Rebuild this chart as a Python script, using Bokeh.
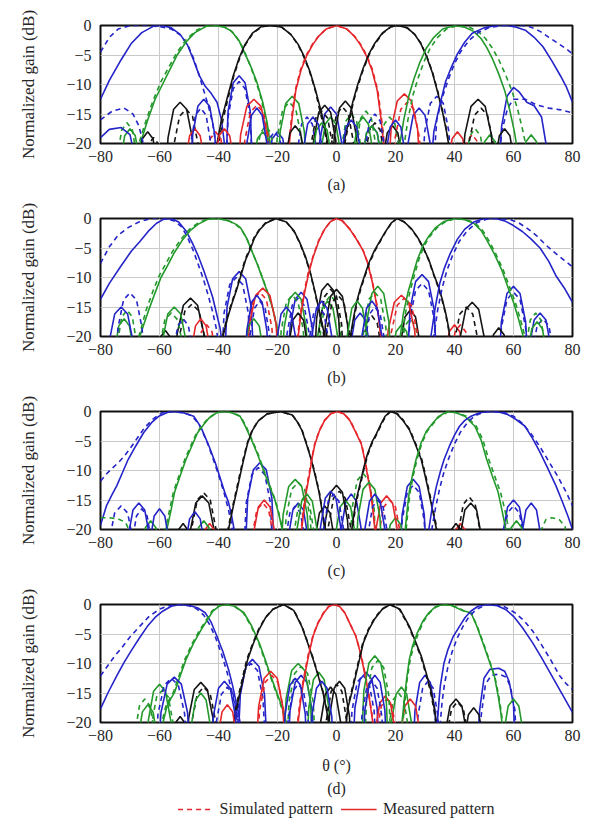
from bokeh.plotting import figure
from bokeh.layouts import column
from bokeh.models import (Range1d, FixedTicker, ColumnDataSource, Legend, LegendItem, Title)
from bokeh.embed import file_html
from bokeh.resources import INLINE

# ---------------- data (theta in degrees, normalized gain in dB) ----------------
X_TICKS = [-80, -60, -40, -20, 0, 20, 40, 60, 80]
X_TICK_LABELS = ["\u221280", "\u221260", "\u221240", "\u221220", "0", "20", "40", "60", "80"]
Y_TICKS = [-20, -15, -10, -5, 0]
Y_TICK_LABELS = ["\u221220", "\u221215", "\u221210", "\u22125", "0"]
PANEL_LABELS = ["(a)", "(b)", "(c)", "(d)"]
X_TITLE = "\u03b8 (\u00b0)"
Y_TITLE = "Normalized gain (dB)"
LEGEND_LABELS = ["Simulated pattern", "Measured pattern"]

# ---- panel (a) ----
A_BL_M = [(-80,-12.5),(-77,-9.3),(-73,-5.8),(-69.5,-3),(-66,-1.2),(-62,-0.1),(-59,0),(-56,-0.4),(-53,-1.5),(-50.5,-3.3),(-48.5,-5.8),(-46.5,-8.5),(-44.5,-10.3),(-42.5,-11.5),(-40.5,-13),(-39,-16),(-38,-20),(-37.5,-30),
          (-38,-30),(-36.75,-14.5),(-35,-9.7),(-33,-8.5),(-31,-9.7),(-29.25,-14.5),(-28,-30),
          (-24.5,-30),(-23.4,-24),(-21.8,-19.2),(-20,-18),(-18.2,-19.2),(-16.6,-24),(-15.5,-30),
          (-7,-30),(-5.75,-19.8),(-4,-15),(-2,-13.8),(0,-15),(1.75,-19.8),(3,-30),
          (7.5,-30),(8.6,-23),(10.2,-18.2),(12,-17),(13.8,-18.2),(15.4,-23),(16.5,-30),
          (23,-30),(24.25,-20),(26,-15.2),(28,-14),(30,-15.2),(31.75,-20),(33,-30),
          (54,-30),(56,-17),(57.8,-12),(60,-10.5),(62,-11.3),(64.5,-13),(67,-13.6),(69.5,-15.5),(71,-20),(71.5,-30)]
A_BL_S = [(-80,-4.5),(-77,-2),(-74,-0.6),(-70,0),(-64,0),(-60,-0.2),(-56,-0.6),(-53,-1.6),(-50.5,-3.2),(-48.5,-5.5),(-46.5,-8.5),(-45,-11),(-43.5,-13.5),(-42,-16.5),(-41,-20),(-40.5,-30),
          (-38,-30),(-36.75,-15.5),(-35,-10.7),(-33,-9.5),(-31,-10.7),(-29.25,-15.5),(-28,-30),
          (-14.5,-30),(-13.4,-21.5),(-11.8,-16.7),(-10,-15.5),(-8.2,-16.7),(-6.6,-21.5),(-5.5,-30),
          (28.5,-30),(29.9,-18),(31.8,-13.2),(34,-12),(36.2,-13.2),(38.1,-18),(39.5,-30),
          (54,-30),(56,-18),(58,-14),(60,-12.5),(64,-12.5),(68,-13.5),(72,-14),(76,-14.3),(80,-14.8)]
A_BR_M = [(-80,-19),(-77,-17.6),(-73,-17.3),(-70,-18.5),(-68.5,-22),(-68,-30),
          (-50,-30),(-48.75,-18.5),(-47,-13.7),(-45,-12.5),(-43,-13.7),(-41.25,-18.5),(-40,-30),
          (-31.5,-30),(-30.4,-20),(-28.8,-15.2),(-27,-14),(-25.2,-15.2),(-23.6,-20),(-22.5,-30),
          (-12.5,-30),(-11.4,-21.5),(-9.8,-16.7),(-8,-15.5),(-6.2,-16.7),(-4.6,-21.5),(-3.5,-30),
          (0.5,-30),(1.6,-22),(3.2,-17.2),(5,-16),(6.8,-17.2),(8.4,-22),(9.5,-30),
          (15.5,-30),(16.6,-22),(18.2,-17.2),(20,-16),(21.8,-17.2),(23.4,-22),(24.5,-30),
          (31,-30),(33,-18),(35,-13.5),(37,-9.5),(39,-7),(41,-4.8),(43.5,-2.8),(46,-1.3),(50,-0.4),(54,0),(58,0),(61,-0.3),(64,-0.8),(67,-2),(70,-3.6),(73,-6),(76,-8.6),(78,-10.5),(80,-13)]
A_BR_S = [(-80,-16),(-76,-14.5),(-72,-14),(-69,-15),(-67,-17),(-65.5,-20),(-65,-30),
          (-50.5,-30),(-49.4,-20),(-47.8,-15.2),(-46,-14),(-44.2,-15.2),(-42.6,-20),(-41.5,-30),
          (-25.5,-30),(-24.4,-24),(-22.8,-19.2),(-21,-18),(-19.2,-19.2),(-17.6,-24),(-16.5,-30),
          (8.5,-30),(9.6,-21),(11.2,-16.2),(13,-15),(14.8,-16.2),(16.4,-21),(17.5,-30),
          (32,-30),(34,-16),(36,-12),(38,-9),(40,-6.5),(42,-4.5),(45,-2.5),(48,-1.2),(52,-0.3),(57,0),(63,0),(66,-0.3),(69,-1),(72,-2),(75,-3),(78,-4),(80,-4.8)]
A_GL_M = [(-74.5,-30),(-73.4,-23.5),(-71.8,-18.7),(-70,-17.5),(-68.2,-18.7),(-66.6,-23.5),(-65.5,-30),
          (-66.5,-20),(-64,-16),(-61.5,-12.5),(-59,-10),(-57,-8),(-54,-5),(-51,-2.8),(-48,-1.2),(-44,-0.1),(-41,0),(-38,-0.3),(-35.5,-1),(-33,-2.6),(-31,-4.8),(-29,-7),(-27,-9.6),(-25,-13),(-23.5,-16.5),(-22.5,-20),(-22,-30),
          (-20.5,-30),(-19.1,-18),(-17.2,-13.2),(-15,-12),(-12.8,-13.2),(-10.9,-18),(-9.5,-30),
          (-6.5,-30),(-5.4,-21.5),(-3.8,-16.7),(-2,-15.5),(-0.2,-16.7),(1.4,-21.5),(2.5,-30),
          (7.5,-30),(8.6,-23),(10.2,-18.2),(12,-17),(13.8,-18.2),(15.4,-23),(16.5,-30),
          (47.5,-30),(48.6,-24.5),(50.2,-19.7),(52,-18.5),(53.8,-19.7),(55.4,-24.5),(56.5,-30)]
A_GL_S = [(-75.5,-30),(-74.4,-22.5),(-72.8,-17.7),(-71,-16.5),(-69.2,-17.7),(-67.6,-22.5),(-66.5,-30),
          (-67,-20),(-64.5,-16),(-62,-12.5),(-59.5,-9.5),(-57,-7.2),(-54,-4.5),(-51,-2.4),(-47.5,-0.8),(-44,0),(-40,0),(-37,-0.4),(-34.5,-1.5),(-32,-3.5),(-30,-5.8),(-28,-8.5),(-26,-11.5),(-24.3,-15),(-23,-18.5),(-22.3,-21),(-22,-30),
          (-21.5,-30),(-20.1,-19),(-18.2,-14.2),(-16,-13),(-13.8,-14.2),(-11.9,-19),(-10.5,-30),
          (0.5,-30),(1.6,-21),(3.2,-16.2),(5,-15),(6.8,-16.2),(8.4,-21),(9.5,-30),
          (13.5,-30),(14.6,-21.5),(16.2,-16.7),(18,-15.5),(19.8,-16.7),(21.4,-21.5),(22.5,-30),
          (42.5,-30),(43.6,-23.5),(45.2,-18.7),(47,-17.5),(48.8,-18.7),(50.4,-23.5),(51.5,-30)]
A_KL_M = [(-68.5,-30),(-67.4,-24),(-65.8,-19.2),(-64,-18),(-62.2,-19.2),(-60.6,-24),(-59.5,-30),
          (-58.5,-30),(-57.1,-19),(-55.2,-14.2),(-53,-13),(-50.8,-14.2),(-48.9,-19),(-47.5,-30),
          (-41.5,-30),(-40.5,-20),(-39,-16),(-37,-12.2),(-35,-8.5),(-33,-5.5),(-31,-3.2),(-28.5,-1.3),(-25.5,-0.2),(-22,0),(-18.5,-0.3),(-15.5,-1.5),(-13,-3.2),(-11,-5.2),(-9,-7.8),(-7.2,-10.8),(-5.5,-14),(-4,-17),(-3,-20),(-2.5,-30),
          (-2,-30),(-0.75,-18.8),(1,-14),(3,-12.8),(5,-14),(6.75,-18.8),(8,-30),
          (14.5,-30),(15.6,-23),(17.2,-18.2),(19,-17),(20.8,-18.2),(22.4,-23),(23.5,-30)]
A_KL_S = [(-66.5,-30),(-65.4,-25),(-63.8,-20.2),(-62,-19),(-60.2,-20.2),(-58.6,-25),(-57.5,-30),
          (-56.5,-30),(-55.1,-20.2),(-53.2,-15.4),(-51,-14.2),(-48.8,-15.4),(-46.9,-20.2),(-45.5,-30),
          (-41,-30),(-40,-20),(-38.5,-16),(-36.7,-12.2),(-34.8,-8.5),(-32.8,-5.5),(-30.8,-3.2),(-28.3,-1.3),(-25.3,-0.2),(-22,0),(-18.5,-0.3),(-15.5,-1.5),(-13,-3.3),(-11,-5.4),(-9,-8),(-7.2,-11),(-5.6,-14.5),(-4.2,-17.5),(-3.2,-20),(-2.8,-30),
          (-3,-30),(-1.75,-19.8),(0,-15),(2,-13.8),(4,-15),(5.75,-19.8),(7,-30),
          (8.5,-30),(9.6,-22.5),(11.2,-17.7),(13,-16.5),(14.8,-17.7),(16.4,-22.5),(17.5,-30)]
A_R_M = [(-52.5,-30),(-51.4,-23.5),(-49.8,-18.7),(-48,-17.5),(-46.2,-18.7),(-44.6,-23.5),(-43.5,-30),
         (-42.5,-30),(-41.4,-23.5),(-39.8,-18.7),(-38,-17.5),(-36.2,-18.7),(-34.6,-23.5),(-33.5,-30),
         (-34,-30),(-32.5,-18.5),(-30.4,-13.7),(-28,-12.5),(-25.6,-13.7),(-23.5,-18.5),(-22,-30),
         (-16.8,-30),(-16,-20),(-15,-15.5),(-13.8,-11),(-12,-7.5),(-10,-5),(-8,-3.2),(-6,-1.8),(-3.5,-0.6),(0,0),(3.5,-0.6),(6,-1.8),(8,-3.2),(10,-5),(12,-7.5),(13.8,-11),(15,-15.5),(16,-20),(16.8,-30),
         (17,-30),(18.5,-17.6),(20.6,-12.8),(23,-11.6),(25.4,-12.8),(27.5,-17.6),(29,-30),
         (36.5,-30),(37.6,-24),(39.2,-19.2),(41,-18),(42.8,-19.2),(44.4,-24),(45.5,-30)]
A_R_S = [(-45.5,-30),(-44.4,-24),(-42.8,-19.2),(-41,-18),(-39.2,-19.2),(-37.6,-24),(-36.5,-30),
         (-32.5,-30),(-31.1,-19.5),(-29.2,-14.7),(-27,-13.5),(-24.8,-14.7),(-22.9,-19.5),(-21.5,-30),
         (-17,-30),(-16.2,-20),(-15.2,-15.5),(-14,-11),(-12.2,-7.5),(-10.2,-5),(-8.2,-3.2),(-6.1,-1.8),(-3.5,-0.6),(0,0),(3.5,-0.6),(6.1,-1.8),(8.2,-3.2),(10.2,-5),(12.2,-7.5),(14,-11),(15.2,-15.5),(16.2,-20),(17,-30),
         (18.5,-30),(19.9,-19),(21.8,-14.2),(24,-13),(26.2,-14.2),(28.1,-19),(29.5,-30),
         (41.5,-30),(42.6,-24.5),(44.2,-19.7),(46,-18.5),(47.8,-19.7),(49.4,-24.5),(50.5,-30)]
A_KR_M = [(-18.5,-30),(-17.4,-23),(-15.8,-18.2),(-14,-17),(-12.2,-18.2),(-10.6,-23),(-9.5,-30),
          (-9,-30),(-7.75,-19.5),(-6,-14.7),(-4,-13.5),(-2,-14.7),(-0.25,-19.5),(1,-30),
          (1.5,-30),(2.5,-20),(4,-16.5),(5.5,-13),(7.2,-10),(9,-7.3),(11,-4.8),(13,-3),(15.5,-1.3),(18.5,-0.2),(21,0),(24,-0.4),(26.5,-1.5),(28.5,-3),(30.5,-5.2),(32.5,-8),(34.3,-11.3),(36,-14.8),(37.3,-18),(38.3,-21),(38.8,-30),
          (42,-30),(43.5,-18.5),(45.6,-13.7),(48,-12.5),(50.4,-13.7),(52.5,-18.5),(54,-30),
          (52.5,-30),(53.6,-23.5),(55.2,-18.7),(57,-17.5),(58.8,-18.7),(60.4,-23.5),(61.5,-30)]
A_KR_S = [(-10,-30),(-8.75,-20.5),(-7,-15.7),(-5,-14.5),(-3,-15.7),(-1.25,-20.5),(0,-30),
          (1.8,-30),(2.8,-20),(4.2,-16.5),(5.7,-13),(7.4,-10),(9.2,-7.3),(11.2,-4.8),(13.2,-3),(15.7,-1.3),(18.5,-0.2),(21,0),(24,-0.4),(26.5,-1.5),(28.6,-3),(30.6,-5.2),(32.6,-8),(34.4,-11.3),(36.1,-14.8),(37.4,-18),(38.4,-21),(38.9,-30),
          (43.5,-30),(44.9,-20),(46.8,-15.2),(49,-14),(51.2,-15.2),(53.1,-20),(54.5,-30)]
A_GR_M = [(-29.5,-30),(-28.4,-24),(-26.8,-19.2),(-25,-18),(-23.2,-19.2),(-21.6,-24),(-20.5,-30),
          (-9.5,-30),(-8.4,-22.5),(-6.8,-17.7),(-5,-16.5),(-3.2,-17.7),(-1.6,-22.5),(-0.5,-30),
          (4.5,-30),(5.6,-21.5),(7.2,-16.7),(9,-15.5),(10.8,-16.7),(12.4,-21.5),(13.5,-30),
          (20.5,-30),(21.5,-20),(22.8,-16),(24.5,-12),(26.3,-9),(28.3,-6.2),(30.5,-3.8),(33,-2),(36,-0.6),(40,0),(43.5,-0.3),(46.5,-1),(49,-2.2),(51,-3.8),(53,-5.8),(55,-8.2),(57,-11),(58.8,-14.5),(60.3,-18),(61.3,-21),(61.8,-30),
          (61.5,-30),(62.6,-24.5),(64.2,-19.7),(66,-18.5),(67.8,-19.7),(69.4,-24.5),(70.5,-30)]
A_GR_S = [(-28.5,-30),(-27.4,-23),(-25.8,-18.2),(-24,-17),(-22.2,-18.2),(-20.6,-23),(-19.5,-30),
          (5.5,-30),(6.6,-20.5),(8.2,-15.7),(10,-14.5),(11.8,-15.7),(13.4,-20.5),(14.5,-30),
          (22,-30),(23,-20),(24.2,-16),(25.8,-12),(27.6,-9),(29.6,-6.2),(31.8,-3.8),(34.3,-2),(37.3,-0.6),(41,0),(45,-0.3),(48,-1),(50.5,-2.2),(52.8,-3.8),(55,-5.8),(57.2,-8.2),(59.4,-11),(61.3,-14),(63,-17.5),(64.5,-21),(65,-30)]

# ---- panel (b) ----
B_BL_M = [(-80,-13.7),(-77,-11),(-73,-8),(-69.5,-5.5),(-66.5,-3.8),(-63.5,-2),(-61,-0.8),(-58.5,-0.1),(-56,0),(-53.5,-0.6),(-51,-2.1),(-49,-4),(-47,-6.2),(-45,-8.8),(-43.5,-11),(-42,-13.3),(-40.8,-15.8),(-39.5,-18.5),(-38.8,-21),(-38.5,-30),
          (-38.5,-30),(-37.1,-15),(-35.2,-10.2),(-33,-9),(-30.8,-10.2),(-28.9,-15),(-27.5,-30),
          (-17,-30),(-15.75,-18.5),(-14,-13.7),(-12,-12.5),(-10,-13.7),(-8.25,-18.5),(-7,-30),
          (3.5,-30),(4.6,-22),(6.2,-17.2),(8,-16),(9.8,-17.2),(11.4,-22),(12.5,-30),
          (23.5,-30),(24.9,-15.5),(26.8,-10.7),(29,-9.5),(31.2,-10.7),(33.1,-15.5),(34.5,-30),
          (54.5,-30),(55.9,-17.5),(57.8,-12.7),(60,-11.5),(62.2,-12.7),(64.1,-17.5),(65.5,-30),
          (64,-30),(65.25,-22),(67,-17.2),(69,-16),(71,-17.2),(72.75,-22),(74,-30)]
B_BL_S = [(-80,-7.6),(-77,-4.8),(-74,-2.8),(-70.5,-1.5),(-67,-0.6),(-63,0),(-58,0),(-55,-0.4),(-52.5,-1.4),(-50.5,-3.2),(-48.5,-5.5),(-46.5,-8.3),(-45,-10.5),(-43.5,-13),(-42,-15.8),(-40.8,-18.5),(-40,-21),(-39.5,-30),
          (-39.5,-30),(-38.1,-16),(-36.2,-11.2),(-34,-10),(-31.8,-11.2),(-29.9,-16),(-28.5,-30),
          (-18,-30),(-16.75,-19.5),(-15,-14.7),(-13,-13.5),(-11,-14.7),(-9.25,-19.5),(-8,-30),
          (23.5,-30),(24.9,-17),(26.8,-12.2),(29,-11),(31.2,-12.2),(33.1,-17),(34.5,-30),
          (54.5,-30),(55.9,-18.5),(57.8,-13.7),(60,-12.5),(62.2,-13.7),(64.1,-18.5),(65.5,-30),
          (65,-30),(66.25,-23),(68,-18.2),(70,-17),(72,-18.2),(73.75,-23),(75,-30)]
B_BR_M = [(-78.5,-30),(-77.1,-21),(-75.2,-16.2),(-73,-15),(-70.8,-16.2),(-68.9,-21),(-67.5,-30),
          (-31.5,-30),(-30.4,-19),(-28.8,-14.2),(-27,-13),(-25.2,-14.2),(-23.6,-19),(-22.5,-30),
          (-21.5,-30),(-20.4,-21),(-18.8,-16.2),(-17,-15),(-15.2,-16.2),(-13.6,-21),(-12.5,-30),
          (-9.5,-30),(-8.4,-20),(-6.8,-15.2),(-5,-14),(-3.2,-15.2),(-1.6,-20),(-0.5,-30),
          (7.5,-30),(8.6,-20),(10.2,-15.2),(12,-14),(13.8,-15.2),(15.4,-20),(16.5,-30),
          (31,-30),(32,-20),(33.5,-15),(35,-11),(36.5,-8.5),(38.5,-6),(41,-3.5),(43.5,-1.8),(46.5,-0.6),(50,0),(54,0),(57,-0.4),(60,-1.2),(63,-2.2),(66,-3.5),(69,-5),(72,-7.3),(74.5,-9.8),(77.5,-12),(80,-14.2)]
B_BR_S = [(-75.5,-30),(-74.1,-18.6),(-72.2,-13.8),(-70,-12.6),(-67.8,-13.8),(-65.9,-18.6),(-64.5,-30),
          (-56.5,-30),(-55.4,-23),(-53.8,-18.2),(-52,-17),(-50.2,-18.2),(-48.6,-23),(-47.5,-30),
          (-30.5,-30),(-29.4,-20),(-27.8,-15.2),(-26,-14),(-24.2,-15.2),(-22.6,-20),(-21.5,-30),
          (-10.5,-30),(-9.4,-21),(-7.8,-16.2),(-6,-15),(-4.2,-16.2),(-2.6,-21),(-1.5,-30),
          (8.5,-30),(9.6,-21),(11.2,-16.2),(13,-15),(14.8,-16.2),(16.4,-21),(17.5,-30),
          (32,-30),(33,-20),(34.3,-15.5),(35.7,-12),(37.3,-9),(39.3,-6.3),(41.7,-3.8),(44.5,-2),(47.5,-0.7),(51,-0.1),(55,0),(59,-0.2),(62,-0.8),(65,-1.8),(68,-3),(71,-4.5),(74,-5.8),(77,-7),(80,-8.2)]
B_GL_M = [(-76.5,-30),(-75.4,-23),(-73.8,-18.2),(-72,-17),(-70.2,-18.2),(-68.6,-23),(-67.5,-30),
          (-67.5,-30),(-66.7,-20),(-64,-16),(-61.5,-12.6),(-59.5,-10),(-57.5,-8.2),(-55,-5.8),(-52.3,-3.7),(-49.5,-2),(-47,-1),(-43.5,-0.1),(-40,0),(-36.5,-0.4),(-34,-1),(-32.5,-1.6),(-30.5,-3.3),(-28.8,-5.4),(-26.8,-7.8),(-24.9,-10.4),(-23.2,-12.8),(-21.6,-15.3),(-20.5,-17.8),(-19.7,-20),(-19.3,-30),
          (-19,-30),(-17.75,-18.5),(-16,-13.7),(-14,-12.5),(-12,-13.7),(-10.25,-18.5),(-9,-30),
          (-7.5,-30),(-6.4,-20),(-4.8,-15.2),(-3,-14),(-1.2,-15.2),(0.4,-20),(1.5,-30),
          (17.5,-30),(18.6,-24),(20.2,-19.2),(22,-18),(23.8,-19.2),(25.4,-24),(26.5,-30)]
B_GL_S = [(-75.5,-30),(-74.4,-21.5),(-72.8,-16.7),(-71,-15.5),(-69.2,-16.7),(-67.6,-21.5),(-66.5,-30),
          (-67,-20),(-64.5,-15.5),(-62,-12),(-60,-9.6),(-58,-7.8),(-55.5,-5.5),(-52.7,-3.5),(-49.8,-1.8),(-47,-0.8),(-43.5,0),(-40,0),(-36.5,-0.4),(-34,-1.1),(-32.3,-1.8),(-30.3,-3.5),(-28.6,-5.6),(-26.6,-8),(-24.7,-10.6),(-23,-13),(-21.4,-15.6),(-20.3,-18),(-19.5,-20.5),(-19.2,-30),
          (-20,-30),(-18.75,-19),(-17,-14.2),(-15,-13),(-13,-14.2),(-11.25,-19),(-10,-30),
          (-6.5,-30),(-5.4,-19),(-3.8,-14.2),(-2,-13),(-0.2,-14.2),(1.4,-19),(2.5,-30),
          (20.5,-30),(21.6,-23),(23.2,-18.2),(25,-17),(26.8,-18.2),(28.4,-23),(29.5,-30)]
B_KL_M = [(-62.5,-30),(-61.4,-25),(-59.8,-20.2),(-58,-19),(-56.2,-20.2),(-54.6,-25),(-53.5,-30),
          (-55.5,-30),(-54,-19.5),(-51.9,-14.7),(-49.5,-13.5),(-47.1,-14.7),(-45,-19.5),(-43.5,-30),
          (-39.5,-30),(-38.5,-20),(-37,-17),(-35.5,-14.5),(-33.8,-12),(-32.3,-9.5),(-30.8,-7),(-29.5,-5.5),(-27.8,-3.3),(-26.2,-2),(-24,-0.8),(-20.5,0),(-17,-0.6),(-14.4,-2.1),(-12.5,-4),(-10.5,-6.5),(-8.8,-9.3),(-7.3,-12.4),(-6,-15.3),(-4.8,-18),(-4,-20),(-3.5,-30),
          (-5,-30),(-3.75,-18),(-2,-13.2),(0,-12),(2,-13.2),(3.75,-18),(5,-30),
          (20.5,-30),(21.6,-21.5),(23.2,-16.7),(25,-15.5),(26.8,-16.7),(28.4,-21.5),(29.5,-30)]
B_KL_S = [(-55,-30),(-53.5,-20.5),(-51.4,-15.7),(-49,-14.5),(-46.6,-15.7),(-44.5,-20.5),(-43,-30),
          (-39.5,-30),(-38.7,-20),(-37.2,-17),(-35.7,-14.5),(-34,-12),(-32.5,-9.5),(-31,-7),(-29.6,-5.3),(-27.9,-3.2),(-26.2,-1.9),(-24,-0.7),(-20.5,0),(-17,-0.6),(-14.4,-2.2),(-12.4,-4.2),(-10.4,-6.8),(-8.7,-9.6),(-7.2,-12.8),(-5.9,-15.8),(-4.7,-18.5),(-4,-21),(-3.6,-30),
          (-4.5,-30),(-3.25,-19),(-1.5,-14.2),(0.5,-13),(2.5,-14.2),(4.25,-19),(5.5,-30),
          (7.5,-30),(8.6,-22.5),(10.2,-17.7),(12,-16.5),(13.8,-17.7),(15.4,-22.5),(16.5,-30)]
B_R_M = [(-50.5,-30),(-49.4,-23),(-47.8,-18.2),(-46,-17),(-44.2,-18.2),(-42.6,-23),(-41.5,-30),
         (-31,-30),(-29.5,-17.8),(-27.4,-13),(-25,-11.8),(-22.6,-13),(-20.5,-17.8),(-19,-30),
         (-13.5,-30),(-13,-20),(-12,-16),(-10.8,-12.5),(-9.3,-9),(-7.9,-6.5),(-6,-3.8),(-4,-1.8),(-2,-0.5),(0,0),(2,-0.4),(4.5,-1.8),(6.5,-3.3),(9,-5.4),(10.5,-7.5),(12,-10.5),(13.2,-13.5),(14.2,-16.5),(15,-20),(15.5,-30),
         (16,-30),(17.5,-19),(19.6,-14.2),(22,-13),(24.4,-14.2),(26.5,-19),(28,-30),
         (35.5,-30),(36.6,-24),(38.2,-19.2),(40,-18),(41.8,-19.2),(43.4,-24),(44.5,-30)]
B_R_S = [(-48.5,-30),(-47.4,-24),(-45.8,-19.2),(-44,-18),(-42.2,-19.2),(-40.6,-24),(-39.5,-30),
         (-31.5,-30),(-30.1,-18.5),(-28.2,-13.7),(-26,-12.5),(-23.8,-13.7),(-21.9,-18.5),(-20.5,-30),
         (-13.7,-30),(-13.2,-20),(-12.2,-16),(-11,-12.5),(-9.5,-9),(-8,-6.5),(-6.1,-3.8),(-4.1,-1.8),(-2,-0.5),(0,0),(2,-0.4),(4.5,-1.8),(6.6,-3.3),(9,-5.4),(10.6,-7.5),(12.1,-10.5),(13.3,-13.5),(14.3,-16.5),(15.1,-20),(15.6,-30),
         (17,-30),(18.5,-19.5),(20.6,-14.7),(23,-13.5),(25.4,-14.7),(27.5,-19.5),(29,-30),
         (37.5,-30),(38.6,-24),(40.2,-19.2),(42,-18),(43.8,-19.2),(45.4,-24),(46.5,-30)]
B_KR_M = [(-17.5,-30),(-16.4,-22),(-14.8,-17.2),(-13,-16),(-11.2,-17.2),(-9.6,-22),(-8.5,-30),
          (-8,-30),(-6.75,-17),(-5,-12.2),(-3,-11),(-1,-12.2),(0.75,-17),(2,-30),
          (4,-30),(4.7,-20),(5.7,-17),(6.8,-14.2),(8,-12),(9.3,-10),(11,-7.5),(12.8,-5.5),(14.5,-4),(16.5,-2.3),(18.5,-0.8),(20.5,0),(23,-0.6),(25.5,-1.8),(27.5,-3.2),(29.5,-5),(31.3,-7),(33,-9.5),(34.5,-11.5),(35.8,-13.6),(37,-16),(38,-18.5),(38.6,-21),(39,-30),
          (40.5,-30),(41.9,-20.2),(43.8,-15.4),(46,-14.2),(48.2,-15.4),(50.1,-20.2),(51.5,-30),
          (50.5,-30),(51.6,-24.5),(53.2,-19.7),(55,-18.5),(56.8,-19.7),(58.4,-24.5),(59.5,-30)]
B_KR_S = [(-7,-30),(-5.75,-18),(-4,-13.2),(-2,-12),(0,-13.2),(1.75,-18),(3,-30),
          (4.2,-30),(4.9,-20),(5.9,-17),(7,-14.2),(8.2,-12),(9.5,-10),(11.2,-7.5),(13,-5.5),(14.7,-4),(16.6,-2.3),(18.6,-0.8),(20.5,0),(23,-0.6),(25.4,-1.8),(27.4,-3.2),(29.4,-5),(31.2,-7),(32.9,-9.5),(34.4,-11.5),(35.7,-13.6),(36.9,-16),(37.9,-18.5),(38.5,-21),(38.9,-30),
          (38.5,-30),(39.9,-21),(41.8,-16.2),(44,-15),(46.2,-16.2),(48.1,-21),(49.5,-30)]
B_GR_M = [(-60.5,-30),(-59.1,-21),(-57.2,-16.2),(-55,-15),(-52.8,-16.2),(-50.9,-21),(-49.5,-30),
          (-32.5,-30),(-31.4,-23),(-29.8,-18.2),(-28,-17),(-26.2,-18.2),(-24.6,-23),(-23.5,-30),
          (2.5,-30),(3.6,-20),(5.2,-15.2),(7,-14),(8.8,-15.2),(10.4,-20),(11.5,-30),
          (9,-30),(10.25,-17.5),(12,-12.7),(14,-11.5),(16,-12.7),(17.75,-17.5),(19,-30),
          (20.8,-30),(21.6,-20),(22.7,-16),(24.2,-12.6),(25.8,-9.8),(27.4,-7),(29.3,-4.6),(31.3,-3),(33.5,-1.6),(36.5,-0.5),(40,0),(43.5,-0.2),(46.5,-0.8),(49,-2),(51,-3.7),(53.5,-6),(56,-8.7),(58,-11.5),(60,-14.2),(61.8,-17.2),(63.3,-20),(63.8,-30),
          (63.5,-30),(64.6,-23.5),(66.2,-18.7),(68,-17.5),(69.8,-18.7),(71.4,-23.5),(72.5,-30)]
B_GR_S = [(-61.5,-30),(-60.1,-22),(-58.2,-17.2),(-56,-16),(-53.8,-17.2),(-51.9,-22),(-50.5,-30),
          (8,-30),(9.25,-18.5),(11,-13.7),(13,-12.5),(15,-13.7),(16.75,-18.5),(18,-30),
          (21.5,-30),(22.3,-20),(23.4,-16),(24.8,-12.6),(26.3,-9.8),(27.9,-7),(29.7,-4.6),(31.7,-3),(34,-1.6),(37,-0.5),(40.5,0),(44,-0.2),(47,-0.8),(49.5,-2),(51.6,-3.7),(54,-6),(56.5,-8.7),(58.6,-11.5),(60.6,-14.2),(62.4,-17.2),(63.9,-20),(64.4,-30),
          (63,-30),(64.1,-22),(65.7,-17.2),(67.5,-16),(69.3,-17.2),(70.9,-22),(72,-30)]

# ---- panel (c) ----
C_BL_M = [(-80,-19.3),(-78,-16),(-76,-14),(-74.5,-12.6),(-72.5,-10.3),(-70.6,-8.1),(-68,-5.8),(-65.4,-3.6),(-62.5,-1.8),(-60.2,-0.8),(-57,-0.1),(-55,0),(-52,-0.2),(-48.4,-0.8),(-46,-2.6),(-43.2,-5.9),(-41,-8.8),(-39.3,-11.5),(-37.8,-13.8),(-36.6,-15.4),(-35.5,-17.8),(-34.7,-20),(-34.3,-30),
          (-31.5,-30),(-30.1,-14.7),(-28.2,-9.9),(-26,-8.7),(-23.8,-9.9),(-21.9,-14.7),(-20.5,-30),
          (-17.5,-30),(-16.4,-21.5),(-14.8,-16.7),(-13,-15.5),(-11.2,-16.7),(-9.6,-21.5),(-8.5,-30),
          (0.5,-30),(1.6,-20),(3.2,-15.2),(5,-14),(6.8,-15.2),(8.4,-20),(9.5,-30),
          (21,-30),(22.25,-17.5),(24,-12.7),(26,-11.5),(28,-12.7),(29.75,-17.5),(31,-30),
          (55,-30),(56.25,-21),(58,-16.2),(60,-15),(62,-16.2),(63.75,-21),(65,-30),
          (61.5,-30),(62.6,-21.5),(64.2,-16.7),(66,-15.5),(67.8,-16.7),(69.4,-21.5),(70.5,-30)]
C_BL_S = [(-80,-11.8),(-78,-10.6),(-76,-9.6),(-74,-8.7),(-72,-7.6),(-70,-6.3),(-67.5,-4.5),(-65,-2.7),(-62,-1.2),(-59,-0.2),(-56,0),(-52,-0.2),(-49,-0.7),(-46.5,-2.3),(-44,-5),(-41.5,-8.5),(-39.5,-11.5),(-38,-14),(-36.8,-16.3),(-35.8,-18.5),(-35,-21),(-34.5,-30),
          (-32,-30),(-30.6,-15.5),(-28.7,-10.7),(-26.5,-9.5),(-24.3,-10.7),(-22.4,-15.5),(-21,-30),
          (-18.5,-30),(-17.4,-22),(-15.8,-17.2),(-14,-16),(-12.2,-17.2),(-10.6,-22),(-9.5,-30),
          (21,-30),(22.25,-18.5),(24,-13.7),(26,-12.5),(28,-13.7),(29.75,-18.5),(31,-30),
          (55,-30),(56.25,-22),(58,-17.2),(60,-16),(62,-17.2),(63.75,-22),(65,-30)]
C_BR_M = [(-72,-30),(-70.75,-21.5),(-69,-16.7),(-67,-15.5),(-65,-16.7),(-63.25,-21.5),(-62,-30),
          (-64.5,-30),(-63.4,-22.5),(-61.8,-17.7),(-60,-16.5),(-58.2,-17.7),(-56.6,-22.5),(-55.5,-30),
          (-52.5,-30),(-51.4,-23),(-49.8,-18.2),(-48,-17),(-46.2,-18.2),(-44.6,-23),(-43.5,-30),
          (-6.5,-30),(-5.4,-19.5),(-3.8,-14.7),(-2,-13.5),(-0.2,-14.7),(1.4,-19.5),(2.5,-30),
          (8.5,-30),(9.6,-20),(11.2,-15.2),(13,-14),(14.8,-15.2),(16.4,-20),(17.5,-30),
          (30.5,-30),(31.3,-20),(32.5,-16),(33.9,-12.6),(35.2,-10.2),(36.5,-8.1),(38.5,-5.6),(40,-4),(41.7,-2.5),(43.5,-1.5),(45.6,-0.8),(48.5,-0.2),(52,0),(55,-0.1),(58,-0.5),(61,-1.4),(63.9,-2.5),(66.5,-4.6),(69.1,-7),(71.5,-9.5),(74.4,-12.6),(76.5,-15.2),(78.5,-17.8),(80,-20)]
C_BR_S = [(-78.5,-30),(-77.1,-22),(-75.2,-17.2),(-73,-16),(-70.8,-17.2),(-68.9,-22),(-67.5,-30),
          (-70.5,-30),(-69.4,-22.5),(-67.8,-17.7),(-66,-16.5),(-64.2,-17.7),(-62.6,-22.5),(-61.5,-30),
          (-5.5,-30),(-4.4,-20),(-2.8,-15.2),(-1,-14),(0.8,-15.2),(2.4,-20),(3.5,-30),
          (9.5,-30),(10.6,-21),(12.2,-16.2),(14,-15),(15.8,-16.2),(17.4,-21),(18.5,-30),
          (31.5,-30),(32.3,-20),(33.5,-16.5),(35,-13),(36.3,-10.5),(38,-8),(40,-5.5),(42,-3.5),(44.5,-1.8),(47,-0.7),(50,-0.1),(53,0),(56.5,-0.1),(60,-0.8),(63,-2),(66,-3.8),(69,-6),(72,-8.5),(75,-11),(78,-13.8),(80,-16)]
C_GL_M = [(-67.5,-30),(-66.4,-24.5),(-64.8,-19.7),(-63,-18.5),(-61.2,-19.7),(-59.6,-24.5),(-58.5,-30),
          (-58.5,-30),(-57.5,-20),(-56,-16.5),(-54.9,-13.7),(-53,-10.9),(-51,-8.1),(-49,-5.8),(-47.1,-3.6),(-45,-2.2),(-43.2,-1.1),(-40.5,-0.2),(-38,0),(-35.5,-0.2),(-32.7,-0.8),(-30.8,-2.6),(-28.8,-4.8),(-26.8,-7.2),(-24.9,-9.8),(-23,-12.3),(-21,-14.8),(-19.6,-17.3),(-18.4,-20),(-18,-30),
          (-19.5,-30),(-18.1,-17.5),(-16.2,-12.7),(-14,-11.5),(-11.8,-12.7),(-9.9,-17.5),(-8.5,-30),
          (-1.5,-30),(-0.4,-21),(1.2,-16.2),(3,-15),(4.8,-16.2),(6.4,-21),(7.5,-30),
          (15.5,-30),(16.6,-24),(18.2,-19.2),(20,-18),(21.8,-19.2),(23.4,-24),(24.5,-30)]
C_GL_S = [(-80,-18),(-77,-18),(-74,-18.2),(-71.5,-18.8),(-70,-20.5),(-69.5,-30),
          (-59,-30),(-58,-20),(-56.5,-16.5),(-55.3,-13.7),(-53.4,-10.9),(-51.4,-8.1),(-49.4,-5.8),(-47.4,-3.6),(-45.3,-2.2),(-43.4,-1.1),(-40.7,-0.2),(-38,0),(-35.3,-0.2),(-32.5,-0.8),(-30.6,-2.6),(-28.6,-4.8),(-26.6,-7.2),(-24.7,-9.8),(-22.8,-12.3),(-20.9,-14.8),(-19.5,-17.3),(-18.3,-20),(-17.9,-30),
          (-18.5,-30),(-17.1,-18),(-15.2,-13.2),(-13,-12),(-10.8,-13.2),(-8.9,-18),(-7.5,-30),
          (4,-30),(5.25,-16.5),(7,-11.7),(9,-10.5),(11,-11.7),(12.75,-16.5),(14,-30)]
C_GR_M = [(-49.5,-30),(-48.4,-24.5),(-46.8,-19.7),(-45,-18.5),(-43.2,-19.7),(-41.6,-24.5),(-40.5,-30),
          (-14.5,-30),(-13.4,-20),(-11.8,-15.2),(-10,-14),(-8.2,-15.2),(-6.6,-20),(-5.5,-30),
          (6,-30),(7.25,-18),(9,-13.2),(11,-12),(13,-13.2),(14.75,-18),(16,-30),
          (22.5,-30),(23.3,-20),(24,-16.5),(24.7,-13.5),(25.7,-10.9),(27,-8.1),(28.7,-5.3),(30.5,-3.3),(32.6,-2),(34.5,-0.9),(37.5,0),(40.5,-0.2),(43.5,-0.8),(46.9,-2.5),(49,-4.8),(50.9,-8.1),(52.8,-10.9),(54.8,-13.7),(56,-16.5),(57.4,-20),(58,-30),
          (56.5,-30),(57.6,-24.5),(59.2,-19.7),(61,-18.5),(62.8,-19.7),(64.4,-24.5),(65.5,-30)]
C_GR_S = [(-15.5,-30),(-14.4,-20.5),(-12.8,-15.7),(-11,-14.5),(-9.2,-15.7),(-7.6,-20.5),(-6.5,-30),
          (22.8,-30),(23.6,-20),(24.3,-16.5),(25,-13.5),(26,-10.9),(27.3,-8.1),(29,-5.3),(30.8,-3.3),(32.9,-2),(34.8,-0.9),(38,0),(41,-0.2),(44,-0.8),(47.4,-2.5),(49.6,-4.8),(51.6,-8.1),(53.6,-10.9),(55.6,-13.7),(57,-16.5),(58.4,-20),(59,-30),
          (68,-30),(69.5,-20),(71,-18.3),(73,-18),(75.5,-18.3),(77.5,-19.5),(78.5,-30)]
C_KL_M = [(-56.5,-30),(-55.4,-25),(-53.8,-20.2),(-52,-19),(-50.2,-20.2),(-48.6,-25),(-47.5,-30),
          (-51,-30),(-49.6,-20.3),(-47.7,-15.5),(-45.5,-14.3),(-43.3,-15.5),(-41.4,-20.3),(-40,-30),
          (-37,-30),(-36.6,-20),(-35.6,-17.5),(-34.7,-15.4),(-33.7,-13.2),(-32.7,-10.9),(-31.4,-8),(-30.1,-5.3),(-28.5,-3.2),(-26.5,-1.6),(-23.5,-0.4),(-19,0),(-15,-0.6),(-13.5,-1.6),(-11.8,-3.1),(-10.2,-5.5),(-8.6,-8.1),(-7.2,-10.9),(-5.9,-13.7),(-4.9,-16.8),(-4,-20),(-3.6,-30),
          (-5,-30),(-3.75,-18.5),(-2,-13.7),(0,-12.5),(2,-13.7),(3.75,-18.5),(5,-30)]
C_KL_S = [(-50.5,-30),(-49.1,-19.8),(-47.2,-15),(-45,-13.8),(-42.8,-15),(-40.9,-19.8),(-39.5,-30),
          (-37.2,-30),(-36.8,-20),(-35.8,-17.5),(-34.9,-15.4),(-33.9,-13.2),(-32.9,-10.9),(-31.6,-8),(-30.2,-5.3),(-28.6,-3.2),(-26.6,-1.6),(-23.5,-0.4),(-19,0),(-15,-0.6),(-13.4,-1.6),(-11.7,-3.1),(-10.1,-5.5),(-8.5,-8.1),(-7.1,-10.9),(-5.8,-13.7),(-4.8,-16.8),(-3.9,-20),(-3.5,-30),
          (-4,-30),(-2.75,-19.5),(-1,-14.7),(1,-13.5),(3,-14.7),(4.75,-19.5),(6,-30)]
C_R_M = [(-47.5,-30),(-46.4,-25),(-44.8,-20.2),(-43,-19),(-41.2,-20.2),(-39.6,-25),(-38.5,-30),
         (-29.5,-30),(-28.25,-21),(-26.5,-16.2),(-24.5,-15),(-22.5,-16.2),(-20.75,-21),(-19.5,-30),
         (-12.3,-30),(-11.8,-20),(-11,-16.5),(-10.2,-13.5),(-9.2,-10.8),(-8.3,-8),(-7.3,-5.5),(-5.8,-3.3),(-4,-1.5),(-2,-0.4),(0.3,0),(2.5,-0.4),(4.5,-1.5),(6.3,-3.3),(8.4,-5.5),(9.5,-8),(10.5,-10.8),(11.5,-13.5),(12.3,-16.5),(13,-20),(13.5,-30),
         (12,-30),(13.25,-20.3),(15,-15.5),(17,-14.3),(19,-15.5),(20.75,-20.3),(22,-30),
         (37.5,-30),(38.6,-25),(40.2,-20.2),(42,-19),(43.8,-20.2),(45.4,-25),(46.5,-30)]
C_R_S = [(-30,-30),(-28.75,-21.5),(-27,-16.7),(-25,-15.5),(-23,-16.7),(-21.25,-21.5),(-20,-30),
         (-12.5,-30),(-12,-20),(-11.2,-16.5),(-10.4,-13.5),(-9.4,-10.8),(-8.4,-8),(-7.4,-5.5),(-5.9,-3.3),(-4.1,-1.5),(-2,-0.4),(0.3,0),(2.6,-0.4),(4.6,-1.5),(6.4,-3.3),(8.5,-5.5),(9.6,-8),(10.6,-10.8),(11.6,-13.5),(12.4,-16.5),(13.1,-20),(13.6,-30),
         (13,-30),(14.25,-21),(16,-16.2),(18,-15),(20,-16.2),(21.75,-21),(23,-30)]
C_KR_M = [(-8.5,-30),(-7.4,-22),(-5.8,-17.2),(-4,-16),(-2.2,-17.2),(-0.6,-22),(0.5,-30),
          (4.8,-30),(5.2,-20),(5.8,-17.8),(6.5,-15.4),(7.8,-12.6),(9.1,-9.8),(10.5,-7.2),(12,-5.2),(13.5,-3.8),(15,-2.2),(16.5,-0.8),(18.2,0),(20.5,-0.4),(22.5,-1.5),(24.7,-3.1),(26.7,-5.5),(28.7,-8.1),(30,-10.8),(31.3,-13.7),(32.6,-16.8),(33.9,-20),(34.3,-30),
          (36,-30),(37.1,-25),(38.7,-20.2),(40.5,-19),(42.3,-20.2),(43.9,-25),(45,-30),
          (40.5,-30),(41.75,-21.5),(43.5,-16.7),(45.5,-15.5),(47.5,-16.7),(49.25,-21.5),(50.5,-30)]
C_KR_S = [(5,-30),(5.4,-20),(6,-17.8),(6.7,-15.4),(8,-12.6),(9.3,-9.8),(10.7,-7.2),(12.2,-5.2),(13.7,-3.8),(15.2,-2.2),(16.7,-0.8),(18.4,0),(20.7,-0.4),(22.7,-1.5),(24.9,-3.1),(26.9,-5.5),(28.9,-8.1),(30.2,-10.8),(31.5,-13.7),(32.8,-16.8),(34.1,-20),(34.5,-30),
          (40,-30),(41.25,-20.5),(43,-15.7),(45,-14.5),(47,-15.7),(48.75,-20.5),(50,-30)]

# ---- panel (d) ----
D_BL_M = [(-80,-17.7),(-77.5,-15),(-74.5,-12.1),(-72,-9.8),(-69.3,-7.6),(-66.7,-5.6),(-64.1,-3.7),(-61.5,-2.2),(-58.8,-1.1),(-56,-0.3),(-53,0),(-49.5,-0.2),(-47,-0.6),(-44.5,-1.4),(-42.5,-3),(-40.6,-5.3),(-38.5,-8),(-36.6,-11),(-35.2,-13.8),(-34,-16.6),(-33.2,-18.5),(-32.7,-20),(-32.5,-30),
          (-34,-30),(-32.6,-15.3),(-30.7,-10.5),(-28.5,-9.3),(-26.3,-10.5),(-24.4,-15.3),(-23,-30),
          (-17,-30),(-15.75,-18),(-14,-13.2),(-12,-12),(-10,-13.2),(-8.25,-18),(-7,-30),
          (5,-30),(6.25,-17.5),(8,-12.7),(10,-11.5),(12,-12.7),(13.75,-17.5),(15,-30),
          (25.5,-30),(26.6,-18),(28.2,-13.2),(30,-12),(31.8,-13.2),(33.4,-18),(34.5,-30),
          (47,-30),(48.5,-18),(50,-12.5),(52,-11),(55,-10.8),(57,-11.3),(58.5,-13),(60,-17),(61,-30)]
D_BL_S = [(-80,-12.1),(-77,-10),(-75,-8.6),(-73.2,-7.6),(-70,-5.5),(-66.7,-3.7),(-63.5,-2),(-60,-0.8),(-57,-0.2),(-54,0),(-50,-0.2),(-47.5,-0.7),(-45,-1.8),(-43,-3.4),(-41,-5.6),(-39,-8.4),(-37.2,-11.3),(-35.7,-14.2),(-34.5,-17),(-33.6,-20),(-33.2,-30),
          (-34.5,-30),(-33.1,-16),(-31.2,-11.2),(-29,-10),(-26.8,-11.2),(-24.9,-16),(-23.5,-30),
          (4,-30),(5.25,-18),(7,-13.2),(9,-12),(11,-13.2),(12.75,-18),(14,-30),
          (26.5,-30),(27.6,-19),(29.2,-14.2),(31,-13),(32.8,-14.2),(34.4,-19),(35.5,-30),
          (47.5,-30),(49,-19),(50.5,-13.5),(52.5,-12),(55,-11.8),(57.5,-12.3),(59,-14),(60.5,-18),(61.5,-30)]
D_BR_M = [(-61,-30),(-59.5,-18.3),(-57.4,-13.5),(-55,-12.3),(-52.6,-13.5),(-50.5,-18.3),(-49,-30),
          (-43,-30),(-41.75,-19),(-40,-14.2),(-38,-13),(-36,-14.2),(-34.25,-19),(-33,-30),
          (-18.5,-30),(-17.4,-18.5),(-15.8,-13.7),(-14,-12.5),(-12.2,-13.7),(-10.6,-18.5),(-9.5,-30),
          (-9.5,-30),(-8.4,-19),(-6.8,-14.2),(-5,-13),(-3.2,-14.2),(-1.6,-19),(-0.5,-30),
          (8.5,-30),(9.6,-18),(11.2,-13.2),(13,-12),(14.8,-13.2),(16.4,-18),(17.5,-30),
          (33.5,-30),(34.2,-20),(34.8,-16),(35.2,-13.8),(36.4,-10),(37.8,-7.6),(39.5,-5.5),(41.7,-3.7),(43.6,-2.2),(45.6,-1.1),(48,-0.3),(51,0),(54.5,-0.2),(57.5,-0.9),(60,-2),(63,-3.9),(66.5,-6.5),(69.5,-9),(73,-12.1),(76.5,-15.2),(80,-18.3)]
D_BR_S = [(-62,-30),(-60.5,-18.5),(-58.4,-13.7),(-56,-12.5),(-53.6,-13.7),(-51.5,-18.5),(-50,-30),
          (-42,-30),(-40.75,-20),(-39,-15.2),(-37,-14),(-35,-15.2),(-33.25,-20),(-32,-30),
          (-17.5,-30),(-16.4,-19.5),(-14.8,-14.7),(-13,-13.5),(-11.2,-14.7),(-9.6,-19.5),(-8.5,-30),
          (7.5,-30),(8.6,-19),(10.2,-14.2),(12,-13),(13.8,-14.2),(15.4,-19),(16.5,-30),
          (34.5,-30),(35.2,-20),(35.8,-16.5),(36.6,-13.5),(37.8,-10.5),(39.2,-8),(41,-5.6),(43,-3.6),(45,-2),(47.5,-0.8),(50.5,-0.1),(53.5,0),(57,-0.4),(60.5,-1.4),(63.5,-2.7),(66.5,-4.5),(69.1,-6.5),(72.5,-9.3),(75.7,-12.1),(78,-13.5),(80,-14.4)]
D_GL_M = [(-68.5,-30),(-67.4,-23),(-65.8,-18.2),(-64,-17),(-62.2,-18.2),(-60.6,-23),(-59.5,-30),
          (-59.5,-30),(-58.8,-20),(-57.5,-17.3),(-56.2,-16),(-54.9,-14.9),(-53,-12.1),(-51,-9.3),(-48.5,-6.6),(-45.8,-4.2),(-43.5,-2.4),(-41.9,-1.1),(-39.5,-0.2),(-37.3,0),(-34.5,-0.3),(-31.4,-1.4),(-28.8,-3.6),(-26.2,-6.5),(-24.2,-9.3),(-22.3,-12.1),(-20.5,-14.6),(-19,-16.6),(-17.8,-18.5),(-17,-20),(-16.6,-30),
          (-18.5,-30),(-17.1,-16),(-15.2,-11.2),(-13,-10),(-10.8,-11.2),(-8.9,-16),(-7.5,-30),
          (-10.5,-30),(-9.4,-17.5),(-7.8,-12.7),(-6,-11.5),(-4.2,-12.7),(-2.6,-17.5),(-1.5,-30),
          (17.5,-30),(18.6,-20),(20.2,-15.2),(22,-14),(23.8,-15.2),(25.4,-20),(26.5,-30)]
D_GL_S = [(-69.5,-30),(-68.4,-22),(-66.8,-17.2),(-65,-16),(-63.2,-17.2),(-61.6,-22),(-60.5,-30),
          (-60,-30),(-59.2,-20),(-57.9,-17.3),(-56.6,-16),(-55.3,-14.9),(-53.4,-12.1),(-51.4,-9.3),(-48.9,-6.6),(-46.2,-4.2),(-43.9,-2.4),(-42.2,-1.1),(-39.8,-0.2),(-37.5,0),(-34.7,-0.3),(-31.6,-1.4),(-29,-3.6),(-26.4,-6.5),(-24.4,-9.3),(-22.5,-12.1),(-20.7,-14.6),(-19.2,-16.6),(-18,-18.5),(-17.2,-20),(-16.8,-30),
          (-17.5,-30),(-16.1,-16.5),(-14.2,-11.7),(-12,-10.5),(-9.8,-11.7),(-7.9,-16.5),(-6.5,-30),
          (16.5,-30),(17.6,-21),(19.2,-16.2),(21,-15),(22.8,-16.2),(24.4,-21),(25.5,-30)]
D_GR_M = [(-65,-30),(-63.75,-19.5),(-62,-14.7),(-60,-13.5),(-58,-14.7),(-56.25,-19.5),(-55,-30),
          (-50.5,-30),(-49.4,-21),(-47.8,-16.2),(-46,-15),(-44.2,-16.2),(-42.6,-21),(-41.5,-30),
          (8,-30),(9.25,-14.7),(11,-9.9),(13,-8.7),(15,-9.9),(16.75,-14.7),(18,-30),
          (21.8,-30),(22.2,-20),(23,-16),(23.8,-12.5),(24.7,-9.3),(25.8,-7),(27.4,-4.8),(29.3,-2.8),(31.3,-1.4),(33.5,-0.4),(36,0),(38.5,-0.1),(40.5,-0.5),(42.5,-1),(45.6,-1.4),(47.5,-3.6),(49.6,-6.5),(51.5,-9.2),(53.5,-12.1),(54.8,-15.5),(55.6,-18),(56.1,-20),(56.5,-30),
          (55.5,-30),(56.6,-22),(58.2,-17.2),(60,-16),(61.8,-17.2),(63.4,-22),(64.5,-30)]
D_GR_S = [(-64,-30),(-62.75,-20.5),(-61,-15.7),(-59,-14.5),(-57,-15.7),(-55.25,-20.5),(-54,-30),
          (9,-30),(10.25,-15.5),(12,-10.7),(14,-9.5),(16,-10.7),(17.75,-15.5),(19,-30),
          (21.8,-30),(22.5,-20),(23.3,-16),(24,-12.5),(25,-9.3),(26.2,-7),(27.8,-4.8),(29.6,-2.8),(31.6,-1.4),(33.8,-0.4),(36.5,0),(39,-0.1),(41,-0.5),(43,-1),(45.8,-1.6),(47.8,-3.8),(49.9,-6.7),(51.8,-9.4),(53.7,-12.3),(55,-15.5),(55.8,-18),(56.3,-20),(56.7,-30)]
D_KL_M = [(-57.5,-30),(-56.4,-25),(-54.8,-20.2),(-53,-19),(-51.2,-20.2),(-49.6,-25),(-48.5,-30),
          (-51.5,-30),(-50.1,-19.2),(-48.2,-14.4),(-46,-13.2),(-43.8,-14.4),(-41.9,-19.2),(-40.5,-30),
          (-35,-30),(-34.7,-20),(-33.8,-17.5),(-32.7,-14.9),(-31.4,-12.1),(-30.1,-9.3),(-28.2,-6.6),(-26.2,-4.2),(-24,-2.2),(-21.5,-0.8),(-18,0),(-14.5,-1),(-11.8,-3.7),(-9.8,-6.5),(-7.9,-9.3),(-6.2,-12.1),(-4.6,-14.9),(-3.5,-17.5),(-2.7,-20),(-2.3,-30),
          (-3.5,-30),(-2.4,-19),(-0.8,-14.2),(1,-13),(2.8,-14.2),(4.4,-19),(5.5,-30)]
D_KL_S = [(-50.5,-30),(-49.1,-20),(-47.2,-15.2),(-45,-14),(-42.8,-15.2),(-40.9,-20),(-39.5,-30),
          (-35.3,-30),(-35,-20),(-34.1,-17.5),(-33,-14.9),(-31.7,-12.1),(-30.4,-9.3),(-28.4,-6.6),(-26.4,-4.2),(-24.1,-2.2),(-21.6,-0.8),(-18,0),(-14.4,-1),(-11.7,-3.7),(-9.7,-6.5),(-7.8,-9.3),(-6.1,-12.1),(-4.5,-14.9),(-3.4,-17.5),(-2.6,-20),(-2.2,-30),
          (-4.5,-30),(-3.4,-19.5),(-1.8,-14.7),(0,-13.5),(1.8,-14.7),(3.4,-19.5),(4.5,-30)]
D_R_M = [(-41.5,-30),(-40.4,-23),(-38.8,-18.2),(-37,-17),(-35.2,-18.2),(-33.6,-23),(-32.5,-30),
         (-27.8,-30),(-26.4,-17.3),(-24.5,-12.5),(-22.3,-11.3),(-20.1,-12.5),(-18.2,-17.3),(-16.8,-30),
         (-13.5,-30),(-13,-20),(-12.2,-16.5),(-11.3,-13.5),(-10.3,-10.8),(-9.2,-8),(-7.9,-5.3),(-6.3,-3.2),(-4.3,-1.4),(-2.5,-0.3),(-0.8,0),(1,-0.3),(2.8,-1.4),(4.5,-3.2),(6.5,-5.3),(8,-8),(9.2,-10.8),(10.3,-13.5),(11.3,-16.5),(12.3,-20),(12.8,-30),
         (12,-30),(13.1,-21.5),(14.7,-16.7),(16.5,-15.5),(18.3,-16.7),(19.9,-21.5),(21,-30),
         (20.5,-30),(21.6,-22),(23.2,-17.2),(25,-16),(26.8,-17.2),(28.4,-22),(29.5,-30)]
D_R_S = [(-27.5,-30),(-26.1,-18),(-24.2,-13.2),(-22,-12),(-19.8,-13.2),(-17.9,-18),(-16.5,-30),
         (-13.7,-30),(-13.2,-20),(-12.4,-16.5),(-11.5,-13.5),(-10.5,-10.8),(-9.4,-8),(-8,-5.3),(-6.4,-3.2),(-4.4,-1.4),(-2.6,-0.3),(-0.8,0),(1,-0.3),(2.8,-1.4),(4.5,-3.2),(6.5,-5.3),(8.1,-8),(9.3,-10.8),(10.4,-13.5),(11.4,-16.5),(12.4,-20),(12.9,-30),
         (12.5,-30),(13.6,-22),(15.2,-17.2),(17,-16),(18.8,-17.2),(20.4,-22),(21.5,-30)]
D_KR_M = [(-6.5,-30),(-5.4,-20),(-3.8,-15.2),(-2,-14),(-0.2,-15.2),(1.4,-20),(2.5,-30),
          (2.8,-30),(3.3,-20),(3.8,-17.7),(5.2,-14.9),(6.5,-12.1),(7.8,-9.3),(9.1,-6.5),(11,-4.2),(13,-2.4),(15.5,-0.8),(18.2,0),(21.5,-0.8),(24.7,-3.7),(26.7,-6.2),(28.7,-8.7),(30.4,-11.6),(31.9,-14.4),(33,-17.2),(33.9,-20),(34.3,-30),
          (35.5,-30),(36.75,-22),(38.5,-17.2),(40.5,-16),(42.5,-17.2),(44.25,-22),(45.5,-30),
          (42,-30),(43.1,-23.5),(44.7,-18.7),(46.5,-17.5),(48.3,-18.7),(49.9,-23.5),(51,-30)]
D_KR_S = [(2.6,-30),(3.1,-20),(3.6,-17.7),(5,-14.9),(6.3,-12.1),(7.6,-9.3),(8.9,-6.5),(10.8,-4.2),(12.8,-2.4),(15.3,-0.8),(18,0),(21.3,-0.8),(24.5,-3.7),(26.5,-6.2),(28.5,-8.7),(30.2,-11.6),(31.7,-14.4),(32.8,-17.2),(33.7,-20),(34.1,-30),
          (36,-30),(37.25,-22.5),(39,-17.7),(41,-16.5),(43,-17.7),(44.75,-22.5),(46,-30)]

# ---------------- styling ----------------
BLUE = "#2424c8"
GREEN = "#23992b"
BLACK = "#141414"
RED = "#e5262b"
FONT = "Liberation Serif"
TXT = "#262626"

PANELS = [
    [(A_BL_M, A_BL_S, BLUE), (A_GL_M, A_GL_S, GREEN), (A_KL_M, A_KL_S, BLACK), (A_R_M, A_R_S, RED),
     (A_KR_M, A_KR_S, BLACK), (A_GR_M, A_GR_S, GREEN), (A_BR_M, A_BR_S, BLUE)],
    [(B_BL_M, B_BL_S, BLUE), (B_GL_M, B_GL_S, GREEN), (B_KL_M, B_KL_S, BLACK), (B_R_M, B_R_S, RED),
     (B_KR_M, B_KR_S, BLACK), (B_GR_M, B_GR_S, GREEN), (B_BR_M, B_BR_S, BLUE)],
    [(C_BL_M, C_BL_S, BLUE), (C_GL_M, C_GL_S, GREEN), (C_KL_M, C_KL_S, BLACK), (C_R_M, C_R_S, RED),
     (C_KR_M, C_KR_S, BLACK), (C_GR_M, C_GR_S, GREEN), (C_BR_M, C_BR_S, BLUE)],
    [(D_BL_M, D_BL_S, BLUE), (D_GL_M, D_GL_S, GREEN), (D_KL_M, D_KL_S, BLACK), (D_R_M, D_R_S, RED),
     (D_KR_M, D_KR_S, BLACK), (D_GR_M, D_GR_S, GREEN), (D_BR_M, D_BR_S, BLUE)],
]
# figure heights / borders (page pixels)
FIG_H = [199, 193, 193, 214]
TOP_B = [25, 19, 19, 19]
BOT_B = [56, 56, 56, 77]
LEGEND_FIG_H = 20


def src(pts):
    return ColumnDataSource(data=dict(x=[p[0] for p in pts], y=[p[1] for p in pts]))


figs = []
for i, curves in enumerate(PANELS):
    last = (i == len(PANELS) - 1)
    p = figure(width=590, height=FIG_H[i],
               x_range=Range1d(-80, 80), y_range=Range1d(-20, 0),
               output_backend="svg", toolbar_location=None,
               min_border_left=100, min_border_right=18, min_border_top=TOP_B[i],
               min_border_bottom=BOT_B[i])
    p.outline_line_color = "#111111"
    p.outline_line_width = 2
    p.background_fill_color = "white"
    p.border_fill_color = "white"

    p.xaxis.ticker = FixedTicker(ticks=X_TICKS)
    p.yaxis.ticker = FixedTicker(ticks=Y_TICKS)
    p.xaxis.major_label_overrides = {t: l for t, l in zip(X_TICKS, X_TICK_LABELS)}
    p.yaxis.major_label_overrides = {t: l for t, l in zip(Y_TICKS, Y_TICK_LABELS)}
    for ax in (p.xaxis[0], p.yaxis[0]):
        ax.axis_line_color = None
        ax.major_tick_line_color = None
        ax.minor_tick_line_color = None
        ax.major_tick_out = 0
        ax.major_tick_in = 0
        ax.minor_tick_out = 0
        ax.major_label_text_font = FONT
        ax.major_label_text_font_size = "16px"
        ax.major_label_text_color = TXT
        ax.axis_label_text_font = FONT
        ax.axis_label_text_font_style = "normal"
        ax.axis_label_text_color = TXT
    p.xaxis.major_label_standoff = 7
    p.yaxis.major_label_standoff = 9
    p.yaxis.axis_label = Y_TITLE
    p.yaxis.axis_label_text_font_size = "17px"
    p.yaxis.axis_label_standoff = 25
    if last:
        p.xaxis.axis_label = X_TITLE
        p.xaxis.axis_label_standoff = 13
    else:
        p.xaxis.axis_label = PANEL_LABELS[i]
        p.xaxis.axis_label_standoff = 11
    p.xaxis.axis_label_text_font_size = "16px"

    p.xgrid.grid_line_color = "#c9c9c9"
    p.ygrid.grid_line_color = "#c9c9c9"
    p.xgrid.grid_line_width = 1
    p.ygrid.grid_line_width = 1

    for (meas, sim, col) in curves:
        p.line("x", "y", source=src(meas), line_color=col, line_width=1.6)
        p.line("x", "y", source=src(sim), line_color=col, line_width=1.6, line_dash="5 4")

    if last:
        t = Title(text=PANEL_LABELS[i], align="center", text_font=FONT, text_font_size="16px",
                  text_font_style="normal", text_color=TXT, standoff=2)
        p.add_layout(t, "below")
    figs.append(p)

# legend strip: the red curves of panel (d) drawn outside its visible range, only for legend glyphs
lf = figure(width=590, height=LEGEND_FIG_H, x_range=Range1d(-80, 80), y_range=Range1d(100, 101),
            x_axis_type=None, y_axis_type=None, output_backend="svg", toolbar_location=None,
            min_border_left=100, min_border_right=18, min_border_top=0, min_border_bottom=0)
lf.outline_line_color = None
lf.grid.visible = False
lf.background_fill_color = "white"
lf.border_fill_color = "white"
r_s = lf.line("x", "y", source=src(D_R_S), line_color=RED, line_width=1.6, line_dash="5 4")
r_m = lf.line("x", "y", source=src(D_R_M), line_color=RED, line_width=1.6)
leg = Legend(items=[LegendItem(label=LEGEND_LABELS[0], renderers=[r_s]),
                    LegendItem(label=LEGEND_LABELS[1], renderers=[r_m])],
             orientation="horizontal", location="center",
             label_text_font=FONT, label_text_font_size="16px", label_text_color=TXT,
             glyph_width=36, glyph_height=14, label_height=18, label_standoff=6, spacing=8,
             padding=0, margin=0, border_line_color=None, background_fill_alpha=0)
lf.add_layout(leg)
figs.append(lf)

layout = column(*figs, spacing=0)
open("out.html", "w").write(file_html(layout, INLINE))
